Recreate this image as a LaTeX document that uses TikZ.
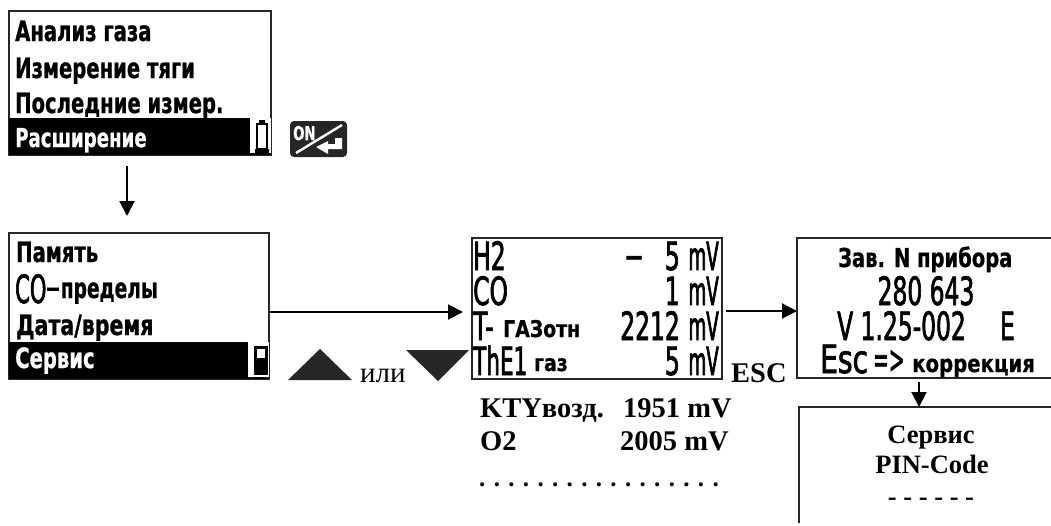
\documentclass[tikz,border=0pt]{standalone}
\usepackage{fontspec}
\usepackage{graphicx}
\setmainfont{Liberation Serif}
\newfontfamily\lcdb[FakeStretch=0.70,FakeBold=0.8]{DejaVu Sans Bold}
\newfontfamily\lcdc[FakeStretch=0.75,FakeBold=0.6]{DejaVu Sans Bold}
\newfontfamily\lcdd[FakeStretch=0.82,FakeBold=0.6]{DejaVu Sans Bold}
\newfontfamily\lcdn[FakeStretch=0.60,FakeBold=1.6]{DejaVu Sans}
\newfontfamily\lcdm[FakeStretch=0.47,FakeBold=1.6]{DejaVu Sans}
\usetikzlibrary{arrows.meta}
\tikzset{
  lcdbox/.style={draw=black!85,line width=1.7pt,fill=white,anchor=north west,inner sep=0pt,outer sep=0pt},
  band/.style={fill=black,draw=none,anchor=north west,inner sep=0pt,outer sep=0pt},
  flow/.style={draw=black,line width=2pt,-{Triangle[length=15pt,width=15pt]}},
  menu/.style={anchor=base west,inner sep=0pt,font=\lcdb\fontsize{28}{28}\selectfont},
  menuw/.style={menu,text=white},
  lcdthin/.style={anchor=base west,inner sep=0pt,font=\lcdn\fontsize{39}{39}\selectfont},
  lcdthinr/.style={lcdthin,anchor=base east},
  unit/.style={anchor=base east,inner sep=0pt,font=\lcdm\fontsize{39}{39}\selectfont},
  lcdsmall/.style={anchor=base west,inner sep=0pt,font=\lcdd\fontsize{24}{24}\selectfont},
  times/.style={anchor=base west,inner sep=0pt,font=\bfseries\fontsize{28.5}{28.5}\selectfont},
  timesc/.style={anchor=base,inner sep=0pt,font=\bfseries\fontsize{26.5}{26.5}\selectfont},
  tri/.style={fill=black!85,draw=none}
}
\begin{document}
\begin{tikzpicture}[x=1pt,y=-1pt]
\useasboundingbox (0,0) rectangle (1051,525);
% ---- box 1
\node[lcdbox,minimum width=262pt,minimum height=144pt] (m1) at (9,11) {};
\node[band,minimum width=262pt,minimum height=37pt] (m1band) at (9,118) {};
\node[menu] (m1a) at (15,41) {Анализ газа};
\node[menu] (m1b) at (15,78) {Измерение тяги};
\node[menu] (m1c) at (15,113) {Последние измер.};
\node[menuw,font=\lcdb\fontsize{26}{26}\selectfont] (m1d) at (15,147) {Расширение};
\fill[white] (250,118) rectangle (270.5,152.5);
\draw[black,line width=1.8pt] (257,124) rectangle (267,149);
\fill[black] (259,120) rectangle (265,124) (255,149) rectangle (269,153);
% ---- ON key
\fill[black!85,rounded corners=4pt] (290,121) rectangle (347,157);
\node[anchor=base west,inner sep=0pt,text=white,font=\lcdb\fontsize{19}{19}\selectfont] (onk) at (293,140) {ON};
\draw[white,line width=2.4pt] (296,153) -- (342,125);
\fill[white] (342,138) -- (342,149) -- (328,149) -- (328,154) -- (316,147) -- (328,141) -- (328,144) -- (335,144) -- (335,138) -- cycle;
% ---- arrow 1
\coordinate (a1s) at (127,166);
\coordinate (a1e) at (127,216);
\draw[flow] (a1s) -- (a1e);
% ---- box 2
\node[lcdbox,minimum width=260pt,minimum height=146pt] (m2) at (9,233) {};
\node[band,minimum width=260pt,minimum height=37pt] (m2band) at (9,342) {};
\node[menu] (m2a) at (16,262) {Память};
\node[lcdthin] (m2b) at (15,303) {\scalebox{.9}[1]{CO}};
\node[menu] (m2bb) at (45,298) {\scalebox{.95}[1]{−пределы}};
\node[menu] (m2c) at (16,335) {\scalebox{1.05}[1]{Дата/время}};
\node[menuw] (m2d) at (15,368) {Сервис};
\fill[white] (248,342) rectangle (268.5,377);
\fill[black] (254,346) rectangle (268,375);
\fill[white] (257,349) rectangle (265,358);
\fill[white] (248,372) rectangle (254,377) (264,375) rectangle (268.5,377);
% ---- arrows between screens
\coordinate (a2e) at (463,312);
\draw[flow] (m2.east |- a2e) -- (a2e);
% ---- triangles
\fill[tri] (288,380) -- (320,349) -- (352,380) -- cycle;
\fill[tri] (406,350) -- (469,350) -- (438,381) -- cycle;
\node[anchor=base west,inner sep=0pt,font=\fontsize{29}{29}\selectfont] (ili) at (360,382) {или};
% ---- box 3
\node[lcdbox,minimum width=250pt,minimum height=141pt] (m3) at (472,238) {};
\node[lcdthin] (h2) at (473,270) {H2};
\node[lcdthinr] (h2d) at (644,270) {−};
\node[lcdthinr] (h2v) at (680,270) {5};
\node[unit] (h2u) at (719,270) {mV};
\node[lcdthin] (co) at (473,305) {CO};
\node[lcdthinr] (cov) at (680,305) {1};
\node[unit] (cou) at (719,305) {mV};
\node[lcdthin] (tg) at (473,340) {T-};
\node[lcdsmall,font=\lcdd\fontsize{23}{23}\selectfont] (tgb) at (503,337) {ГАЗотн};
\node[lcdthinr] (tgv) at (680,340) {2212};
\node[unit] (tgu) at (719,340) {mV};
\node[lcdthin] (th) at (473,375) {\scalebox{.92}[1]{ThE1}};
\node[lcdsmall,font=\lcdd\fontsize{23}{23}\selectfont] (thb) at (534,371) {газ};
\node[lcdthinr] (thv) at (680,375) {5};
\node[unit] (thu) at (719,375) {mV};
\node[times] (esc) at (731,382) {ESC};
% ---- text below box 3
\node[times] (k1) at (480,417) {KTYвозд.};
\node[times] (k2) at (623,417) {1951 mV};
\node[times] (o1) at (480,450) {O2};
\node[times] (o2) at (620,450) {2005 mV};
\node[times,font=\bfseries\fontsize{25}{25}\selectfont] (dots) at (479,486) {. . . . . . . . . . . . . . . . .};
% ---- box 4
\coordinate (a3s) at (726,311);
\node[lcdbox,minimum width=260pt,minimum height=140pt] (m4) at (797,238) {};
\draw[flow] (a3s) -- (m4.west |- a3s);
\node[lcdsmall,font=\lcdc\fontsize{26}{26}\selectfont,anchor=base west] (s1) at (838,267) {Зав. N прибора};
\node[lcdthin,anchor=base] (s2) at (926,305) {280 643};
\node[lcdthin] (s3) at (837,340) {V 1.25-002};
\node[lcdthinr] (s3e) at (1015,340) {E};
\node[lcdthin] (s4) at (820,373) {\scalebox{1.2}[1]{Esc}};
\node[lcdthin] (s4b) at (873,373) {\scalebox{.8}[1]{=>}};
\node[lcdsmall] (s4c) at (912,372) {коррекция};
% ---- box 5
\node[anchor=north west,inner sep=0pt,minimum width=260pt,minimum height=116pt] (m5) at (799,407) {};
\draw[draw=black!85,line width=1.7pt] (m5.south west) -- (m5.north west) -- (m5.north east);
\coordinate (a4s) at (919,382);
\draw[flow] (a4s) -- (a4s |- m5.north);
\node[timesc] (p1) at (931,443) {Сервис};
\node[timesc] (p2) at (932,473) {PIN-Code};
\node[timesc] (p3) at (931,505) {- - - - - -};
\end{tikzpicture}
\end{document}
